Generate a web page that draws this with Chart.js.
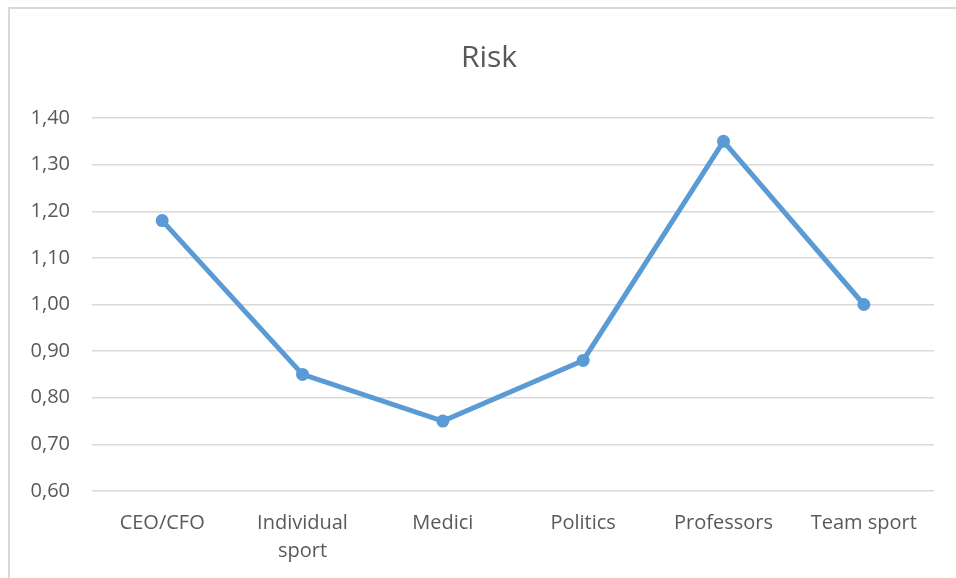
<!DOCTYPE html>
<html>
<head>
<meta charset="utf-8">
<script src="https://cdn.jsdelivr.net/npm/chart.js@4.4.1/dist/chart.umd.min.js"></script>
<style>
  html, body { margin: 0; padding: 0; background: #ffffff; }
  #wrap { position: relative; width: 956px; height: 578px; overflow: hidden; }
  #frame {
    position: absolute; left: 8px; top: 7px; width: 960px; height: 600px;
    border-left: 2px solid #d9d9d9; border-top: 2px solid #d9d9d9; box-sizing: border-box;
  }
  #chart { position: absolute; left: 0; top: 0; }
</style>
</head>
<body>
<div id="wrap">
  <div id="frame"></div>
  <canvas id="chart" width="956" height="578"></canvas>
</div>
<script>
// Risk index by group
const categories = ['CEO/CFO', ['Individual', 'sport'], 'Medici', 'Politics', 'Professors', 'Team sport'];
const riskValues = [1.18, 0.85, 0.75, 0.88, 1.35, 1.00];
const yMin = 0.60;
const yMax = 1.40;
const yStep = 0.10;
const chartTitle = 'Risk';

const textColor = '#595959';
const fontFamily = '"Open Sans", Lato, "Noto Sans", sans-serif';

// Title drawn over the frame's centre (the frame is inset on the left)
const frameTitle = {
  id: 'frameTitle',
  afterDraw(chart) {
    const ctx = chart.ctx;
    ctx.save();
    ctx.fillStyle = textColor;
    ctx.font = '30px ' + fontFamily;
    ctx.textAlign = 'center';
    ctx.textBaseline = 'middle';
    ctx.fillText(chartTitle, 489, 58);
    ctx.restore();
  }
};

new Chart(document.getElementById('chart'), {
  type: 'line',
  data: {
    labels: categories,
    datasets: [{
      label: chartTitle,
      data: riskValues,
      borderColor: '#5b9bd5',
      backgroundColor: '#5b9bd5',
      borderWidth: 5,
      pointRadius: 6.5,
      pointHoverRadius: 6.5,
      pointBorderWidth: 0,
      tension: 0,
      fill: false
    }]
  },
  plugins: [frameTitle],
  options: {
    responsive: false,
    animation: false,
    layout: { padding: { left: 0, right: 22, top: 118, bottom: 0 } },
    plugins: {
      legend: { display: false },
      tooltip: { enabled: false },
      title: { display: false }
    },
    scales: {
      x: {
        offset: true,
        grid: { display: false, drawTicks: false },
        border: { display: false },
        ticks: {
          color: textColor,
          font: { family: fontFamily, size: 20, lineHeight: 1.4 },
          padding: 18,
          maxRotation: 0,
          autoSkip: false
        },
        afterFit: (scale) => { scale.height = 578 - 491; }
      },
      y: {
        min: yMin,
        max: yMax,
        grid: { color: '#d9d9d9', lineWidth: 1.5, drawTicks: false },
        border: { display: false },
        ticks: {
          stepSize: yStep,
          color: textColor,
          font: { family: fontFamily, size: 20 },
          padding: 22,
          callback: (v) => Number(v).toFixed(2).replace('.', ',')
        },
        afterFit: (scale) => { scale.width = 92; }
      }
    }
  }
});
</script>
</body>
</html>
